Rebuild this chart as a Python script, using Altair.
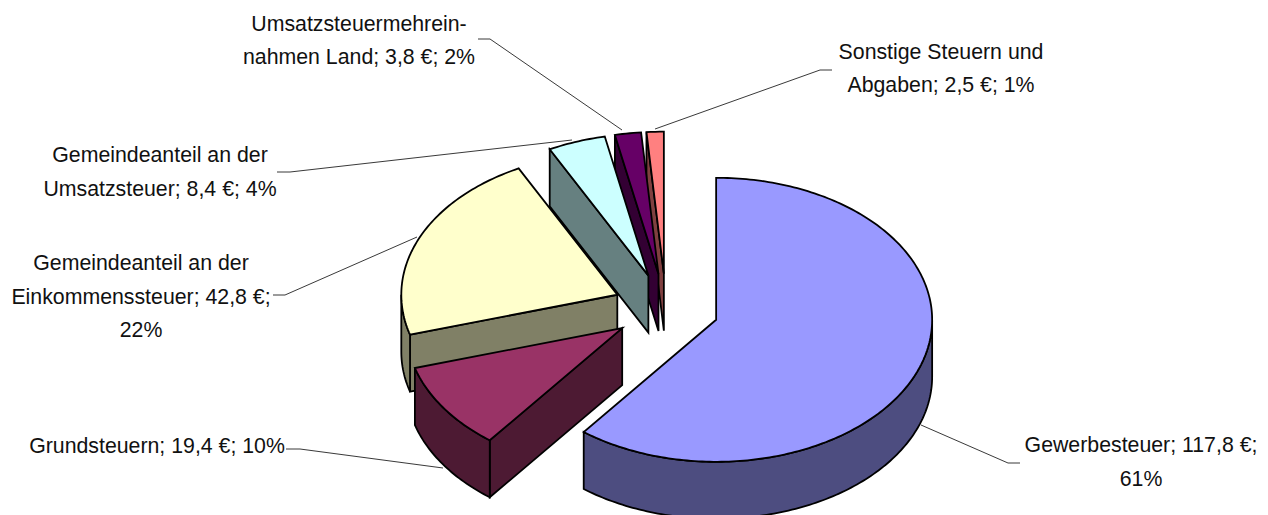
import math
import altair as alt
import pandas as pd

# --- chart values ---
names = ["Gewerbesteuer", "Grundsteuern", "Gemeindeanteil ESt", "Gemeindeanteil USt", "Umsatzsteuermehreinnahmen", "Sonstige"]
values = [117.8, 19.4, 42.8, 8.4, 3.8, 2.5]
top_colors = ["#9999FF", "#993366", "#FFFFCC", "#CCFFFF", "#660066", "#FF8080"]
side_colors = ["#4D4D80", "#4D1A33", "#808066", "#668080", "#330033", "#804040"]
label_lines = [
    ["Gewerbesteuer; 117,8 €;", "61%"],
    ["Grundsteuern; 19,4 €; 10%"],
    ["Gemeindeanteil an der", "Einkommenssteuer; 42,8 €;", "22%"],
    ["Gemeindeanteil an der", "Umsatzsteuer; 8,4 €; 4%"],
    ["Umsatzsteuermehrein-", "nahmen Land; 3,8 €; 2%"],
    ["Sonstige Steuern und", "Abgaben; 2,5 €; 1%"],
]

# --- layout (pixels of the picture) ---
W, H = 1252, 507
CX, CY, RX, RY, DEPTH, EXPLODE = 666, 308.5, 216, 142, 57, 53
label_center = [(1141, 445.5), (157, 447), (141, 264), (160, 156), (359, 25), (941, 53)]
line_step = [34, 0, 33.5, 34, 33, 33]
leader_knots = [
    [(921, 425), (1008, 463), (1020, 463)],
    [(443, 468), (300, 449), (286, 449)],
    [(417, 237), (285, 295), (273, 295)],
    [(572, 140), (290, 172), (277, 172)],
    [(622, 130), (490, 39), (478, 39)],
    [(655, 129), (820, 70), (832, 70)],
]
xs = alt.Scale(domain=[8, 8 + W], range=[0, W])
ys = alt.Scale(domain=[8, 8 + H], range=[0, H])


def polygon(pts, fill):
    df = pd.DataFrame({"x": [p[0] for p in pts], "y": [p[1] for p in pts], "i": range(len(pts))})
    return alt.Chart(df).mark_line(
        fill=fill, stroke="black", strokeWidth=1.8, interpolate="linear-closed", clip=False
    ).encode(
        x=alt.X("x:Q", scale=xs, axis=None),
        y=alt.Y("y:Q", scale=ys, axis=None),
        order="i:Q",
    )


def rim(ax, ay, deg):
    r = math.radians(deg)
    return (ax + RX * math.sin(r), ay - RY * math.cos(r))


total = sum(values)
slices = []
a = 0.0
for k, v in enumerate(values):
    b = a + v / total * 360
    m = math.radians((a + b) / 2)
    slices.append((k, a, b, CX + EXPLODE * math.sin(m), CY - EXPLODE * math.cos(m) * RY / RX))
    a = b

layers = []
for k, a, b, ax, ay in reversed(slices):
    # cut face at the start edge, if it looks towards the viewer
    if math.cos(math.radians(a - 90)) < 0:
        p = rim(ax, ay, a)
        layers.append(polygon([(ax, ay), p, (p[0], p[1] + DEPTH), (ax, ay + DEPTH)], side_colors[k]))
    # cut face at the end edge, if it looks towards the viewer
    if math.cos(math.radians(b + 90)) < 0:
        p = rim(ax, ay, b)
        layers.append(polygon([(ax, ay), p, (p[0], p[1] + DEPTH), (ax, ay + DEPTH)], side_colors[k]))
    # outer wall: the part of the rim that faces the viewer
    lo, hi = max(a, 90), min(b, 270)
    if hi > lo:
        n = max(2, int(hi - lo))
        arc = [rim(ax, ay, lo + (hi - lo) * j / n) for j in range(n + 1)]
        layers.append(polygon(arc + [(x, y + DEPTH) for x, y in reversed(arc)], side_colors[k]))
    # top face
    n = max(2, int(b - a))
    layers.append(polygon([(ax, ay)] + [rim(ax, ay, a + (b - a) * j / n) for j in range(n + 1)], top_colors[k]))

for knots in leader_knots:
    df = pd.DataFrame({"x": [p[0] for p in knots], "y": [p[1] for p in knots], "i": range(len(knots))})
    layers.append(
        alt.Chart(df).mark_line(color="#222222", strokeWidth=0.9).encode(
            x=alt.X("x:Q", scale=xs, axis=None),
            y=alt.Y("y:Q", scale=ys, axis=None),
            order="i:Q",
        )
    )

rows = []
for (cx, cy), step, lines in zip(label_center, line_step, label_lines):
    for j, t in enumerate(lines):
        rows.append({"x": cx, "y": cy + j * step, "t": t})
layers.append(
    alt.Chart(pd.DataFrame(rows)).mark_text(
        font="Liberation Sans", fontSize=21.3, color="#111111", align="center", baseline="middle"
    ).encode(
        x=alt.X("x:Q", scale=xs, axis=None),
        y=alt.Y("y:Q", scale=ys, axis=None),
        text="t:N",
    )
)

chart = alt.layer(*layers).properties(
    width=W, height=H, padding=0,
    autosize=alt.AutoSizeParams(type="none"),
).configure_view(stroke=None)
chart.save("out.html", embed_options={"renderer": "svg", "actions": False})
